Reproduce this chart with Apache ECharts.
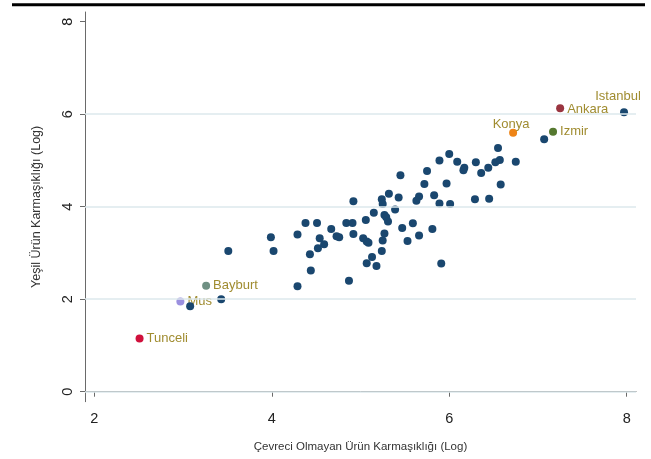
<!DOCTYPE html>
<html>
<head>
<meta charset="utf-8">
<script src="https://cdn.jsdelivr.net/npm/echarts@6/dist/echarts.min.js"></script>
<style>html,body{margin:0;padding:0;background:#fff;}#c{width:651px;height:459px;}</style>
</head>
<body>
<div id="c"></div>
<script>
// Non-green product complexity (x) and green product complexity (y), log values
const provinceX = [3.51,3.99,4.02,4.29,4.29,4.38,4.51,4.54,4.59,4.52,4.43,4.44,4.67,4.73,4.76,4.84,4.91,4.92,4.92,4.87,
  5.03,5.07,5.09,5.06,5.15,5.13,5.07,5.18,5.24,5.25,5.27,5.29,5.31,5.27,5.25,5.24,5.32,5.43,5.39,5.45,
  5.47,5.53,5.59,5.66,5.63,5.66,5.72,5.75,5.81,5.83,5.89,6.01,5.91,5.97,5.89,6.00,6.09,6.17,6.16,6.29,
  6.30,6.36,6.44,6.52,6.57,6.45,6.58,6.55,6.75,7.07,3.08,3.43];
const provinceY = [3.04,3.34,3.04,3.40,2.28,3.65,3.65,3.32,3.19,3.10,2.97,2.62,3.52,3.36,3.34,3.65,3.65,4.12,3.41,2.40,
  3.32,3.25,3.22,3.71,3.87,2.91,2.78,2.72,4.16,4.06,3.82,3.77,3.68,3.42,3.27,3.04,4.28,4.20,3.94,4.68,
  3.54,3.26,3.64,4.22,4.13,3.38,4.49,4.77,3.52,4.25,4.07,4.06,2.77,4.50,5.00,5.14,4.97,4.84,4.79,4.16,
  4.96,4.73,4.84,4.96,5.01,4.17,4.48,5.27,4.97,5.46,1.85,2.00];

const cityNames = ['Istanbul','Ankara','Izmir','Konya','Bayburt','Mus','Tunceli'];
const cityX = [7.97,7.25,7.17,6.72,3.26,2.97,2.51];
const cityY = [6.04,6.13,5.62,5.60,2.29,1.95,1.15];

const xTicks = [2,4,6,8];
const yTicks = [0,2,4,6,8];
const gridValues = [0,2,4,6];

const xTitle = 'Çevreci Olmayan Ürün Karmaşıklığı (Log)';
const yTitle = 'Yeşil Ürün Karmaşıklığı (Log)';

const cityColors = ['#1a476f','#9a3540','#55782f','#ee8416','#6f9083','#9b90df','#d0103c'];
const cityLabelPos = [[-2,-12],[11,5],[11,4],[2,-4.5],[11,4],[11,4],[11,4]];
const cityLabelAlign = ['center','left','left','center','left','left','left'];

const FONT = '"Liberation Sans", Arial, sans-serif';
const axisColor = '#6a6a6a';

const chart = echarts.init(document.getElementById('c'), null, {renderer: 'canvas'});

const cityData = cityNames.map((n, i) => ({
  value: [cityX[i], cityY[i]],
  name: n,
  itemStyle: {color: cityColors[i], opacity: 1},
  label: {
    show: true,
    formatter: n,
    position: cityLabelPos[i],
    align: cityLabelAlign[i],
    verticalAlign: 'middle',
    color: '#a08c30',
    fontSize: 13,
    fontFamily: FONT
  }
}));

const option = {
  animation: false,
  backgroundColor: '#fff',
  grid: {left: 85, right: 15, top: 12, bottom: 57.3, containLabel: false},
  xAxis: {
    type: 'value',
    min: 1.895, max: 8.105,
    name: xTitle,
    nameLocation: 'middle',
    nameGap: 39,
    nameTextStyle: {color: '#333', fontSize: 11.5, fontFamily: FONT},
    axisLine: {show: true, lineStyle: {color: axisColor, width: 1}},
    axisTick: {show: true, length: 5, lineStyle: {color: axisColor}, customValues: xTicks},
    axisLabel: {color: '#222', fontSize: 14.5, fontFamily: FONT, margin: 10, customValues: xTicks},
    splitLine: {show: false}
  },
  yAxis: {
    type: 'value',
    min: -0.216, max: 8.21,
    name: yTitle,
    nameLocation: 'middle',
    nameGap: 42,
    nameRotate: 90,
    nameTextStyle: {color: '#333', fontSize: 12.5, fontFamily: FONT},
    axisLine: {show: true, lineStyle: {color: axisColor, width: 1}},
    axisTick: {show: true, length: 5, lineStyle: {color: axisColor}, customValues: yTicks},
    axisLabel: {color: '#222', fontSize: 14.5, fontFamily: FONT, margin: 10, rotate: 90, customValues: yTicks},
    splitLine: {show: false}
  },
  series: [
    {
      type: 'scatter',
      data: [],
      z: 1,
      markLine: {
        silent: true,
        symbol: ['none', 'none'],
        label: {show: false},
        lineStyle: {color: '#dde9ed', width: 1.5, type: 'solid', opacity: 1},
        emphasis: {disabled: true},
        data: gridValues.map(v => ({yAxis: v}))
      }
    },
    {
      type: 'scatter',
      symbolSize: 8,
      data: cityData,
      z: 2
    },
    {
      type: 'scatter',
      symbolSize: 8,
      itemStyle: {color: '#1a476f', opacity: 1},
      data: provinceX.map((x, i) => [x, provinceY[i]]),
      z: 3
    }
  ],
  graphic: [
    {type: 'line', shape: {x1: 12, y1: 4.8, x2: 645, y2: 4.8}, style: {stroke: '#000', lineWidth: 3}, silent: true}
  ]
};
chart.setOption(option);
</script>
</body>
</html>
